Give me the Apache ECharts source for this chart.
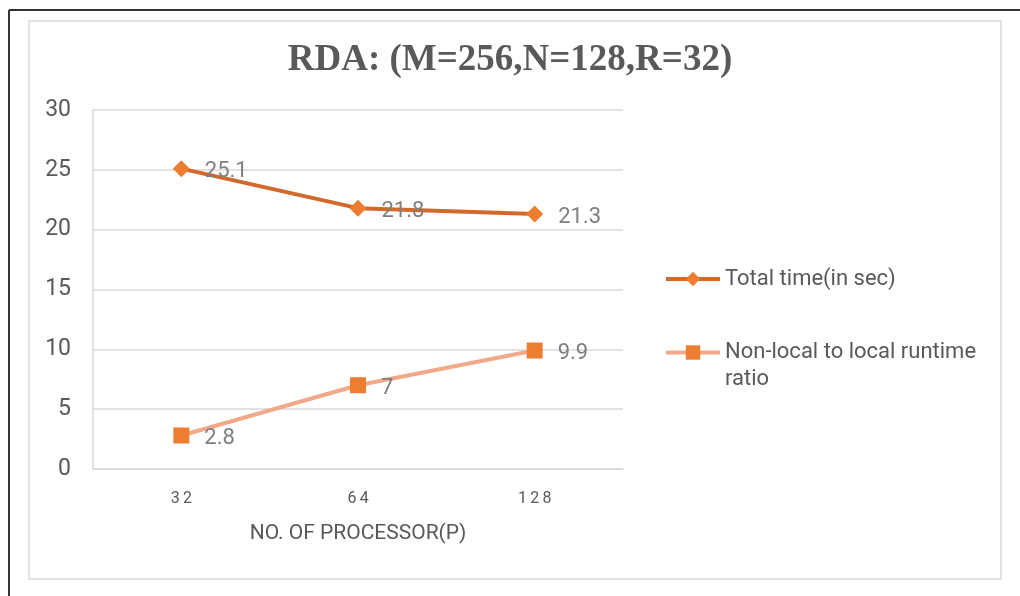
<!DOCTYPE html>
<html>
<head>
<meta charset="utf-8">
<script src="https://cdn.jsdelivr.net/npm/echarts@6/dist/echarts.min.js"></script>
<style>
  html, body { margin: 0; padding: 0; background: #fff; }
  #chart { width: 1020px; height: 596px; }
</style>
</head>
<body>
<div id="chart"></div>
<script>
// Processor counts on the x axis
var processors = ['32', '64', '128'];
// Total run time in seconds
var totalTime = [25.1, 21.8, 21.3];
// Non-local to local runtime ratio
var runtimeRatio = [2.8, 7, 9.9];
// Value axis ticks
var yMin = 0, yMax = 30, yStep = 5;

var seriesNames = ['Total time(in sec)', 'Non-local to local runtime ratio'];
var labelFont = 'Roboto, "Liberation Sans", sans-serif';

var chart = echarts.init(document.getElementById('chart'), null, { renderer: 'canvas' });

var dataLabel = {
  show: true,
  position: 'right',
  distance: 15,
  offset: [0, 3],
  color: '#7f7f7f',
  fontFamily: labelFont,
  fontSize: 22
};

var legendBase = {
  orient: 'vertical',
  left: 664,
  padding: 0,
  itemWidth: 54,
  itemHeight: 18,
  lineStyle: { width: 4 },
  textStyle: { fontFamily: labelFont, fontSize: 22, color: '#595959' }
};

chart.setOption({
  backgroundColor: '#ffffff',
  animation: false,
  title: {
    text: 'RDA: (M=256,N=128,R=32)',
    left: 'center',
    top: 37,
    textStyle: {
      fontFamily: '"Liberation Serif", "DejaVu Serif", serif',
      fontWeight: 'bold',
      fontSize: 37,
      color: '#595959'
    }
  },
  graphic: [
    // page frame
    { type: 'line', shape: { x1: 9, y1: 10, x2: 1020, y2: 10 }, style: { stroke: '#333', lineWidth: 2 }, silent: true },
    { type: 'line', shape: { x1: 9, y1: 10, x2: 9, y2: 596 }, style: { stroke: '#333', lineWidth: 2 }, silent: true },
    // chart area border
    { type: 'rect', shape: { x: 29, y: 21, width: 972, height: 558 }, style: { fill: 'none', stroke: '#d9d9d9', lineWidth: 1.5 }, silent: true }
  ],
  legend: [
    Object.assign({}, legendBase, {
      data: [seriesNames[0]],
      top: 268
    }),
    Object.assign({}, legendBase, {
      data: [seriesNames[1]],
      top: 312,
      // wrapped over two lines; the leading blank line keeps the first line level with the icon
      formatter: function () { return '\nNon-local to local runtime\nratio'; },
      textStyle: { fontFamily: labelFont, fontSize: 22, color: '#595959', lineHeight: 27 }
    })
  ],
  grid: { left: 93, right: 397, top: 110, bottom: 127, containLabel: false },
  xAxis: {
    type: 'category',
    data: processors,
    boundaryGap: true,
    axisLine: { show: true, lineStyle: { color: '#d9d9d9', width: 1.5 } },
    axisTick: { show: false },
    axisLabel: {
      margin: 22,
      color: '#595959',
      fontFamily: labelFont,
      fontSize: 16,
      formatter: function (v) { return v.split('').join('\u2009'); }
    },
    name: 'NO. OF PROCESSOR(P)',
    nameLocation: 'middle',
    nameGap: 54,
    nameTextStyle: { color: '#595959', fontFamily: labelFont, fontSize: 21 }
  },
  yAxis: {
    type: 'value',
    min: yMin,
    max: yMax,
    interval: yStep,
    axisLine: { show: true, lineStyle: { color: '#d9d9d9', width: 1.5 } },
    axisTick: { show: false },
    splitLine: { show: true, lineStyle: { color: '#d9d9d9', width: 1.5 } },
    axisLabel: { margin: 22, color: '#595959', fontFamily: labelFont, fontSize: 23 }
  },
  series: [
    {
      name: seriesNames[0],
      type: 'line',
      data: totalTime,
      symbol: 'diamond',
      symbolSize: 17,
      lineStyle: { color: '#d2692a', width: 4 },
      itemStyle: { color: '#ed7d31' },
      label: dataLabel
    },
    {
      name: seriesNames[1],
      type: 'line',
      data: runtimeRatio,
      symbol: 'rect',
      symbolSize: 16,
      lineStyle: { color: '#f2a98a', width: 4 },
      itemStyle: { color: '#ed7d31' },
      label: dataLabel
    }
  ]
});
</script>
</body>
</html>
